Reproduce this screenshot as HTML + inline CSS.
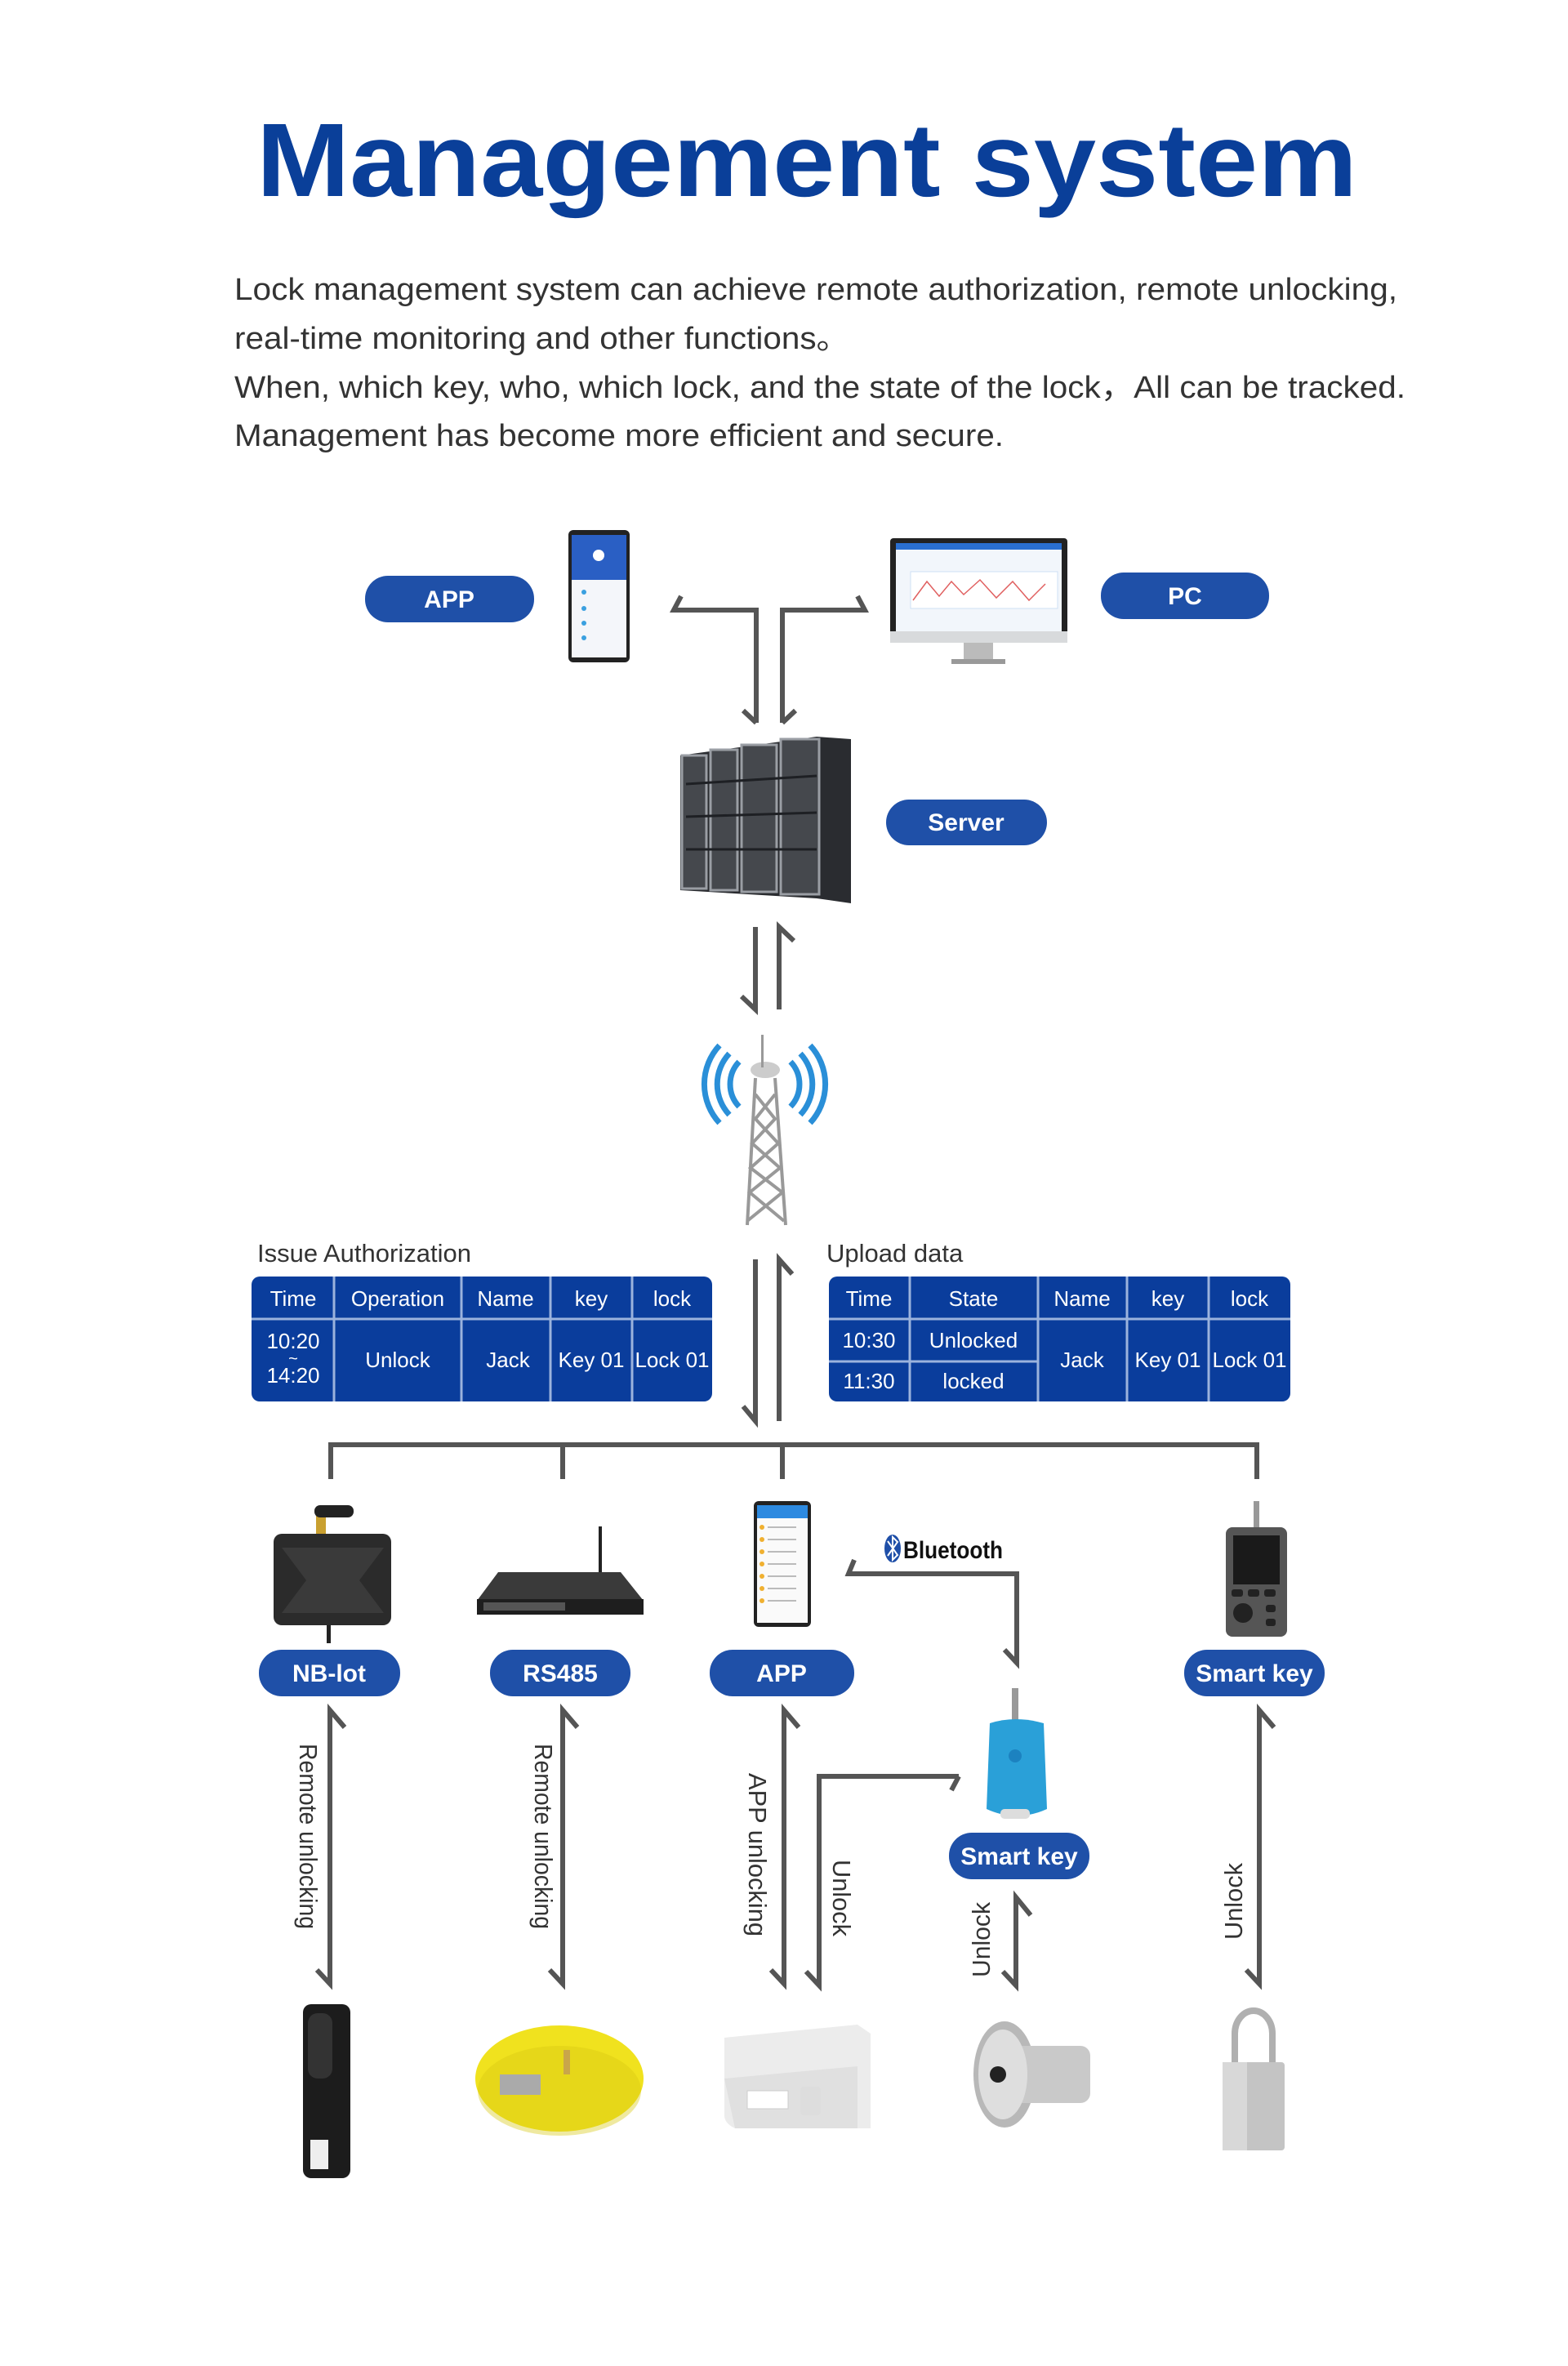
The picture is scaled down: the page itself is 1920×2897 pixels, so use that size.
<!DOCTYPE html>
<html><head><meta charset="utf-8"><style>
html,body{margin:0;padding:0;background:#fff}
svg{display:block}
text{font-family:"Liberation Sans",sans-serif}
</style></head><body>
<svg width="1920" height="2897" viewBox="0 0 1920 2897" xmlns="http://www.w3.org/2000/svg">
<rect width="1920" height="2897" fill="#fff"/>
<!-- Title -->
<text x="314" y="240" font-size="128" font-weight="bold" fill="#0a3f99" textLength="1348" lengthAdjust="spacingAndGlyphs">Management system</text>
<g fill="#333" font-size="38">
<text x="287" y="367" textLength="1424" lengthAdjust="spacingAndGlyphs">Lock management system can achieve remote authorization, remote unlocking,</text>
<text x="287" y="427" textLength="753" lengthAdjust="spacingAndGlyphs">real-time monitoring and other functions。</text>
<text x="287" y="487" textLength="1434" lengthAdjust="spacingAndGlyphs">When, which key, who, which lock, and the state of the lock，All can be tracked.</text>
<text x="287" y="546" textLength="942" lengthAdjust="spacingAndGlyphs">Management has become more efficient and secure.</text>
</g>

<!-- Pills -->
<g fill="#1f50a8">
<rect x="447" y="705" width="207" height="57" rx="28"/>
<rect x="1348" y="701" width="206" height="57" rx="28"/>
<rect x="1085" y="979" width="197" height="56" rx="28"/>
<rect x="317" y="2020" width="173" height="57" rx="28"/>
<rect x="600" y="2020" width="172" height="57" rx="28"/>
<rect x="869" y="2020" width="177" height="57" rx="28"/>
<rect x="1450" y="2020" width="172" height="57" rx="28"/>
<rect x="1162" y="2244" width="172" height="57" rx="28"/>
</g>
<g fill="#fff" font-size="30" font-weight="bold" text-anchor="middle">
<text x="550" y="744">APP</text>
<text x="1451" y="740">PC</text>
<text x="1183" y="1017">Server</text>
<text x="403" y="2059">NB-lot</text>
<text x="686" y="2059">RS485</text>
<text x="957" y="2059">APP</text>
<text x="1536" y="2059">Smart key</text>
<text x="1248" y="2283">Smart key</text>
</g>

<!-- Arrows -->
<g stroke="#555" stroke-width="6" fill="none" stroke-linejoin="miter">
<!-- T arrows -->
<polyline points="834,730 825,747 926,747 926,885"/>
<polyline points="910,870 926,885"/>
<polyline points="1050,730 1059,747 958,747 958,885"/>
<polyline points="974,870 958,885"/>
<!-- server-tower -->
<polyline points="925,1135 925,1236 908,1220"/>
<polyline points="954,1236 954,1135 972,1152"/>
<!-- tower-tables -->
<polyline points="925,1542 925,1740 910,1722"/>
<polyline points="954,1740 954,1542 970,1560"/>
<!-- bus -->
<polyline points="405,1811 405,1769 1539,1769 1539,1811"/>
<line x1="689" y1="1769" x2="689" y2="1811"/>
<line x1="958" y1="1769" x2="958" y2="1811"/>
<!-- bluetooth -->
<polyline points="1046,1910 1039,1927 1245,1927 1245,2036 1230,2020"/>
<!-- vertical arrows -->
<polyline points="422,2115 404,2094 404,2429 388,2412"/>
<polyline points="707,2115 689,2094 689,2429 673,2412"/>
<polyline points="978,2115 960,2094 960,2429 944,2412"/>
<polyline points="1174,2175 1003,2175 1003,2431 987,2414"/>
<polyline points="1174,2175 1165,2192"/>
<polyline points="1262,2345 1244,2323 1244,2431 1228,2414"/>
<polyline points="1560,2115 1542,2094 1542,2429 1526,2412"/>
</g>

<!-- Arrow labels -->
<g fill="#333" font-size="31">
<text transform="translate(367,2135) rotate(90)" textLength="227" lengthAdjust="spacingAndGlyphs">Remote unlocking</text>
<text transform="translate(655,2135) rotate(90)" textLength="227" lengthAdjust="spacingAndGlyphs">Remote unlocking</text>
<text transform="translate(917,2171) rotate(90)" textLength="200" lengthAdjust="spacingAndGlyphs">APP unlocking</text>
<text transform="translate(1020,2277) rotate(90)" textLength="94" lengthAdjust="spacingAndGlyphs">Unlock</text>
<text transform="translate(1212,2421) rotate(-90)" textLength="92" lengthAdjust="spacingAndGlyphs">Unlock</text>
<text transform="translate(1521,2375) rotate(-90)" textLength="94" lengthAdjust="spacingAndGlyphs">Unlock</text>
</g>

<!-- Bluetooth label -->
<ellipse cx="1093" cy="1896" rx="10" ry="17" fill="#1f4fa8"/>
<polyline points="1087,1887 1099,1904 1093,1910 1093,1882 1099,1888 1087,1905" stroke="#fff" stroke-width="2" fill="none"/>
<text x="1106" y="1908" font-size="30" font-weight="bold" fill="#111" textLength="122" lengthAdjust="spacingAndGlyphs">Bluetooth</text>

<!-- Tables -->
<text x="315" y="1545" font-size="31" fill="#333">Issue Authorization</text>
<text x="1012" y="1545" font-size="31" fill="#333">Upload data</text>
<rect x="308" y="1563" width="564" height="153" rx="10" fill="#0a3d9c"/>
<g stroke="#9bb3dd" stroke-width="3">
<line x1="308" y1="1615" x2="872" y2="1615"/>
<line x1="409" y1="1563" x2="409" y2="1716"/>
<line x1="565" y1="1563" x2="565" y2="1716"/>
<line x1="674" y1="1563" x2="674" y2="1716"/>
<line x1="774" y1="1563" x2="774" y2="1716"/>
</g>
<rect x="1015" y="1563" width="565" height="153" rx="10" fill="#0a3d9c"/>
<g stroke="#9bb3dd" stroke-width="3">
<line x1="1015" y1="1615" x2="1580" y2="1615"/>
<line x1="1015" y1="1667" x2="1271" y2="1667"/>
<line x1="1114" y1="1563" x2="1114" y2="1716"/>
<line x1="1271" y1="1563" x2="1271" y2="1716"/>
<line x1="1380" y1="1563" x2="1380" y2="1716"/>
<line x1="1480" y1="1563" x2="1480" y2="1716"/>
</g>
<g fill="#fff" font-size="26" text-anchor="middle">
<text x="359" y="1599">Time</text><text x="487" y="1599">Operation</text><text x="619" y="1599">Name</text><text x="724" y="1599">key</text><text x="823" y="1599">lock</text>
<text x="359" y="1651">10:20</text><text x="359" y="1670" font-size="20">~</text><text x="359" y="1693">14:20</text>
<text x="487" y="1674">Unlock</text><text x="622" y="1674">Jack</text><text x="724" y="1674">Key 01</text><text x="823" y="1674">Lock 01</text>
<text x="1064" y="1599">Time</text><text x="1192" y="1599">State</text><text x="1325" y="1599">Name</text><text x="1430" y="1599">key</text><text x="1530" y="1599">lock</text>
<text x="1064" y="1650">10:30</text><text x="1192" y="1650">Unlocked</text>
<text x="1064" y="1700">11:30</text><text x="1192" y="1700">locked</text>
<text x="1325" y="1674">Jack</text><text x="1430" y="1674">Key 01</text><text x="1530" y="1674">Lock 01</text>
</g>

<!-- Phone top -->
<rect x="696" y="649" width="75" height="162" rx="6" fill="#222"/>
<rect x="700" y="655" width="67" height="150" fill="#f4f6fa"/>
<rect x="700" y="655" width="67" height="55" fill="#2a5fc4"/>
<circle cx="733" cy="680" r="7" fill="#fff"/>
<g fill="#3aa0e0"><circle cx="715" cy="725" r="3"/><circle cx="715" cy="745" r="3"/><circle cx="715" cy="763" r="3"/><circle cx="715" cy="781" r="3"/></g>
<!-- Monitor -->
<rect x="1090" y="659" width="217" height="128" rx="4" fill="#222"/>
<rect x="1097" y="665" width="203" height="108" fill="#f2f6fb"/>
<rect x="1097" y="665" width="203" height="8" fill="#2a6fd0"/>
<rect x="1115" y="700" width="180" height="45" fill="#fff" stroke="#cfe0f5"/>
<polyline points="1118,735 1135,712 1150,730 1165,712 1180,728 1200,710 1220,732 1240,712 1260,735 1280,715" stroke="#e06060" stroke-width="1.5" fill="none"/>
<rect x="1090" y="773" width="217" height="14" fill="#d8dadc"/>
<rect x="1180" y="787" width="36" height="20" fill="#bbb"/>
<rect x="1165" y="807" width="66" height="6" fill="#999"/>

<!-- Server -->
<polygon points="833,925 1000,902 1042,905 1042,1106 1000,1100 833,1090" fill="#2a2c30"/>
<g fill="#45484d" stroke="#9a9ea4" stroke-width="3">
<rect x="835" y="925" width="30" height="163"/>
<rect x="870" y="918" width="33" height="172"/>
<rect x="908" y="912" width="43" height="180"/>
<rect x="956" y="905" width="47" height="190"/>
</g>
<g stroke="#1e2024" stroke-width="3">
<line x1="840" y1="960" x2="1000" y2="950"/><line x1="840" y1="1000" x2="1000" y2="995"/><line x1="840" y1="1040" x2="1000" y2="1040"/>
</g>

<!-- Tower -->
<g fill="none" stroke="#2a8fd8" stroke-width="7">
<path d="M905,1300 A40,40 0 0,0 905,1355"/><path d="M893,1290 A55,55 0 0,0 893,1365"/><path d="M881,1280 A70,70 0 0,0 881,1375"/>
<path d="M968,1300 A40,40 0 0,1 968,1355"/><path d="M980,1290 A55,55 0 0,1 980,1365"/><path d="M992,1280 A70,70 0 0,1 992,1375"/>
</g>
<ellipse cx="937" cy="1310" rx="18" ry="10" fill="#ccc"/>
<g stroke="#999" stroke-width="4" fill="none">
<polyline points="925,1320 915,1500"/><polyline points="949,1320 962,1500"/>
<polyline points="925,1340 949,1370 921,1400 955,1430 918,1460 960,1495"/>
<polyline points="949,1340 925,1370 953,1400 919,1430 958,1460 915,1495"/>
</g>
<rect x="932" y="1267" width="3" height="40" fill="#999"/>

<!-- NB-lot device -->
<rect x="387" y="1850" width="12" height="30" fill="#c9a030"/>
<rect x="385" y="1843" width="48" height="15" rx="7" fill="#222"/>
<rect x="335" y="1878" width="144" height="112" rx="10" fill="#2b2b2b"/>
<polygon points="345,1895 470,1895 440,1935 470,1975 345,1975 375,1935" fill="#3a3a3a"/>
<rect x="400" y="1990" width="5" height="22" fill="#222"/>
<!-- RS485 switch -->
<rect x="733" y="1869" width="4" height="60" fill="#222"/>
<polygon points="610,1925 760,1925 788,1960 584,1960" fill="#3a3a3a"/>
<rect x="584" y="1958" width="204" height="19" fill="#1e1e1e"/>
<rect x="592" y="1962" width="100" height="10" fill="#555"/>
<!-- app phone -->
<rect x="923" y="1838" width="70" height="154" rx="6" fill="#222"/>
<rect x="927" y="1843" width="62" height="144" fill="#fafafa"/>
<rect x="927" y="1843" width="62" height="16" fill="#2d8ae0"/>
<g fill="#f0b030"><circle cx="933" cy="1870" r="3"/><circle cx="933" cy="1885" r="3"/><circle cx="933" cy="1900" r="3"/><circle cx="933" cy="1915" r="3"/><circle cx="933" cy="1930" r="3"/><circle cx="933" cy="1945" r="3"/><circle cx="933" cy="1960" r="3"/></g>
<g stroke="#bbb" stroke-width="2"><line x1="940" y1="1870" x2="975" y2="1870"/><line x1="940" y1="1885" x2="975" y2="1885"/><line x1="940" y1="1900" x2="975" y2="1900"/><line x1="940" y1="1915" x2="975" y2="1915"/><line x1="940" y1="1930" x2="975" y2="1930"/><line x1="940" y1="1945" x2="975" y2="1945"/><line x1="940" y1="1960" x2="975" y2="1960"/></g>
<!-- smart key device -->
<rect x="1535" y="1838" width="7" height="35" fill="#999"/>
<rect x="1501" y="1870" width="75" height="134" rx="8" fill="#555"/>
<rect x="1510" y="1880" width="57" height="60" fill="#1a1a1a"/>
<circle cx="1522" cy="1975" r="12" fill="#222"/>
<g fill="#222"><rect x="1508" y="1946" width="14" height="9" rx="3"/><rect x="1528" y="1946" width="14" height="9" rx="3"/><rect x="1548" y="1946" width="14" height="9" rx="3"/><rect x="1550" y="1965" width="12" height="9" rx="3"/><rect x="1550" y="1982" width="12" height="9" rx="3"/></g>
<!-- key fob -->
<rect x="1239" y="2067" width="8" height="45" fill="#999"/>
<path d="M1212,2110 Q1243,2100 1278,2110 L1282,2215 Q1245,2232 1208,2215 Z" fill="#2aa0d8"/>
<circle cx="1243" cy="2150" r="8" fill="#1c82c0"/>
<rect x="1225" y="2215" width="36" height="12" rx="5" fill="#ddd"/>

<!-- bottom locks -->
<rect x="371" y="2454" width="58" height="213" rx="10" fill="#1c1c1c"/>
<rect x="377" y="2465" width="30" height="80" rx="12" fill="#333"/>
<rect x="380" y="2620" width="22" height="36" fill="#eee"/>
<ellipse cx="685" cy="2545" rx="103" ry="65" fill="#f0e21e"/>
<ellipse cx="685" cy="2560" rx="100" ry="55" fill="#d6c712" opacity="0.4"/>
<rect x="612" y="2540" width="50" height="25" fill="#aaa"/>
<rect x="690" y="2510" width="8" height="30" fill="#c9a64a"/>
<path d="M887,2495 L1050,2479 L1066,2490 L1066,2606 L900,2606 Q887,2600 887,2590 Z" fill="#ececec"/>
<path d="M887,2545 L1050,2530 L1050,2606 L900,2606 Z" fill="#e0e0e0"/>
<rect x="915" y="2560" width="50" height="22" fill="#fff" stroke="#ccc"/>
<rect x="980" y="2555" width="25" height="35" rx="4" fill="#ddd"/>
<ellipse cx="1230" cy="2540" rx="38" ry="65" fill="#b8b8b8"/>
<rect x="1240" y="2505" width="95" height="70" rx="12" fill="#c9c9c9"/>
<ellipse cx="1228" cy="2540" rx="30" ry="55" fill="#dedede"/>
<circle cx="1222" cy="2540" r="10" fill="#222"/>
<path d="M1512,2530 L1512,2490 A23,28 0 0,1 1558,2490 L1558,2530" stroke="#b0b0b0" stroke-width="8" fill="none"/>
<rect x="1497" y="2525" width="76" height="108" rx="4" fill="#c4c4c4"/>
<rect x="1497" y="2525" width="30" height="108" fill="#d8d8d8"/>
</svg>
</body></html>
